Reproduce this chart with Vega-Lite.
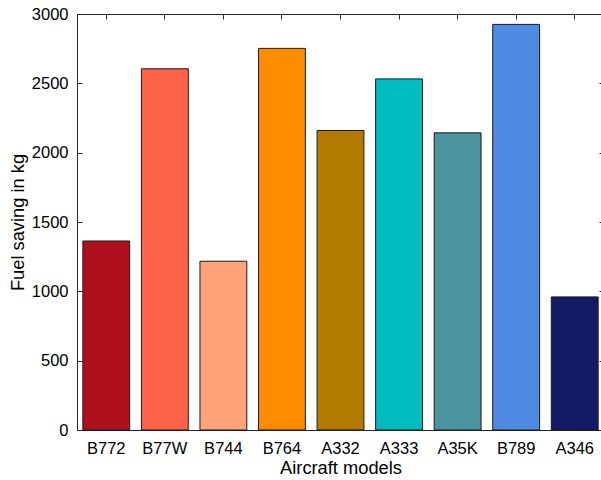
{
  "$schema": "https://vega.github.io/schema/vega-lite/v6.json",
  "autosize": {"type": "none"},
  "padding": {"left": 77, "top": 14, "right": 0, "bottom": 50},
  "width": 527,
  "height": 416,
  "background": "white",
  "config": {
    "font": "Liberation Sans",
    "view": {"stroke": null},
    "axis": {
      "domainColor": "#262626",
      "tickColor": "#262626",
      "labelColor": "#000000",
      "titleColor": "#000000",
      "labelFont": "Liberation Sans",
      "titleFont": "Liberation Sans",
      "labelFontSize": 16.5,
      "titleFontSize": 18.3,
      "titleFontWeight": "normal",
      "grid": false,
      "tickSize": -5,
      "domainWidth": 1,
      "tickWidth": 1
    }
  },
  "data": {
    "values": [
      {"model": "B772", "saving": 1363},
      {"model": "B77W", "saving": 2605},
      {"model": "B744", "saving": 1217},
      {"model": "B764", "saving": 2752},
      {"model": "A332", "saving": 2160},
      {"model": "A333", "saving": 2532},
      {"model": "A35K", "saving": 2143},
      {"model": "B789", "saving": 2925},
      {"model": "A346", "saving": 960}
    ]
  },
  "resolve": {"axis": {"x": "independent", "y": "independent"}},
  "layer": [
    {
      "mark": {"type": "bar", "stroke": "#1a1a1a", "strokeWidth": 1},
      "encoding": {
        "x": {
          "field": "model", "type": "nominal", "sort": null,
          "scale": {"paddingInner": 0.2, "paddingOuter": 0.1},
          "axis": {"title": "Aircraft models", "labelAngle": 0, "labelPadding": 15, "titleY": 43, "titleBaseline": "alphabetic"}
        },
        "y": {
          "field": "saving", "type": "quantitative",
          "scale": {"domain": [0, 3000], "nice": false},
          "axis": {"title": "Fuel saving in kg", "format": "d", "values": [0, 500, 1000, 1500, 2000, 2500, 3000], "labelPadding": 14, "titleX": -59, "titleY": 208, "titleAngle": -90, "titleBaseline": "middle", "titleAlign": "center"}
        },
        "color": {
          "field": "model", "type": "nominal", "sort": null, "legend": null,
          "scale": {
            "domain": ["B772", "B77W", "B744", "B764", "A332", "A333", "A35K", "B789", "A346"],
            "range": ["#AE101E", "#FF6347", "#FFA47A", "#FF8C00", "#B27A00", "#00BBC0", "#4A939F", "#4F8BE3", "#131A66"]
          }
        }
      }
    },
    {
      "mark": {"type": "bar", "opacity": 0},
      "encoding": {
        "x": {
          "field": "model", "type": "nominal", "sort": null,
          "axis": {"orient": "top", "title": null, "labels": false}
        },
        "y": {
          "field": "saving", "type": "quantitative",
          "axis": {"orient": "right", "title": null, "labels": false, "values": [0, 500, 1000, 1500, 2000, 2500, 3000]}
        }
      }
    }
  ]
}
